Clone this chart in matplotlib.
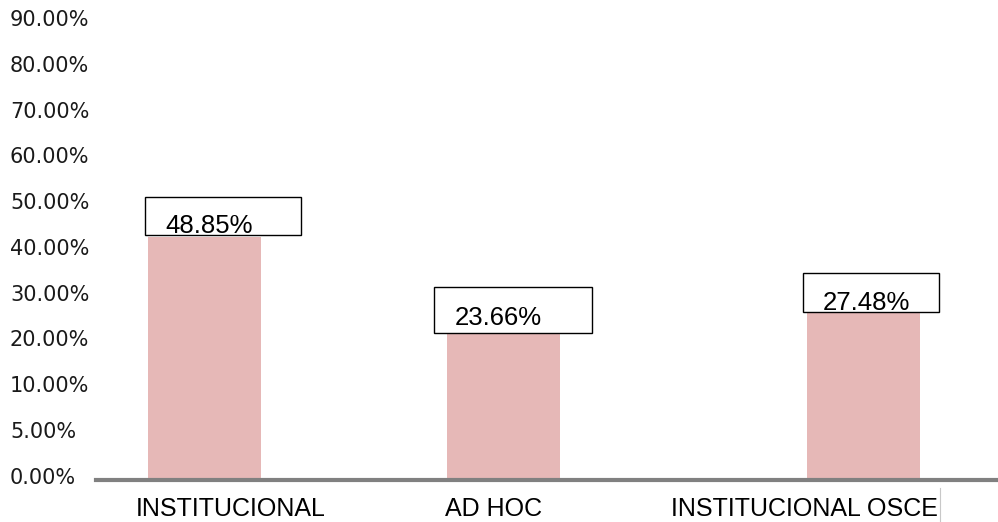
import numpy as np
import matplotlib
matplotlib.use("Agg")
import matplotlib.pyplot as plt
from matplotlib.patches import Rectangle

# data
categorias = ["INSTITUCIONAL", "AD HOC", "INSTITUCIONAL OSCE"]
etiquetas = [48.85, 23.66, 27.48]          # printed percentages
alturas = [42.2, 21.2, 25.8]               # drawn bar heights, read against the axis
ticks_val = [0, 5, 10, 20, 30, 40, 50, 60, 70, 80, 90]
ticks_txt = ["%.2f%%" % v for v in ticks_val]

# layout (one x unit = gap between the first two bars)
x_barras = [0, 1, 2.204]
x_textos = [0.089, 0.967, 2.007]
ancho = 0.378
PX_X = 299.0   # pixels per x unit
PX_Y = 45.7    # pixels per tick step
# label boxes: left/right offsets from bar edges, bottom offset from bar top, height (px)
cajas = [(-3, 40, 2, 38), (-13, 32, 0, 46), (-4, 19, 0, 39)]
texto_off = [(20, 2), (21, 8), (20, 2)]   # text left from box left, baseline above box bottom

color_barra = "#E6B8B7"

# non uniform axis: ticks evenly spaced
pos_ticks = np.arange(len(ticks_val))
h = np.interp(alturas, ticks_val, pos_ticks)

fig = plt.figure(figsize=(9.98, 5.22), dpi=100)
ax = fig.add_axes([96 / 998, 42 / 522, 902 / 998, 480 / 522])

ax.bar(x_barras, h - (-0.098), bottom=-0.098, width=ancho, color=color_barra,
       edgecolor="none", zorder=2)

for i in range(len(categorias)):
    izq = x_barras[i] - ancho / 2
    der = x_barras[i] + ancho / 2
    l, r, b, alto = cajas[i]
    x0 = izq + l / PX_X
    x1 = der + r / PX_X
    y0 = h[i] + b / PX_Y
    ax.add_patch(Rectangle((x0, y0), x1 - x0, alto / PX_Y, facecolor="white",
                           edgecolor="black", linewidth=1.0, zorder=3))
    tx, ty = texto_off[i]
    ax.text(x0 + tx / PX_X, y0 + ty / PX_Y, "%.2f%%" % etiquetas[i],
            fontsize=18.5, family="Liberation Sans", ha="left", va="baseline", zorder=4)

ax.set_xlim(-0.363, 2.654)
ax.set_ylim(-0.098, 10.40)

ax.set_yticks(pos_ticks)
ax.set_yticklabels(ticks_txt, fontsize=15, family="DejaVu Sans", color="#1a1a1a")
for t in ax.get_yticklabels():
    t.set_horizontalalignment("left")
ax.tick_params(axis="y", length=0, pad=62)

ax.set_xticks(x_textos)
ax.set_xticklabels(categorias, fontsize=18, family="Liberation Sans")
ax.tick_params(axis="x", length=0, pad=12)

for s in ["top", "right", "left"]:
    ax.spines[s].set_visible(False)
ax.spines["bottom"].set_color("#808080")
ax.spines["bottom"].set_linewidth(3)
ax.spines["bottom"].set_zorder(5)

# small cursor mark after the last label
fig.add_artist(plt.Line2D([940 / 998, 940 / 998], [0, 34 / 522], color="#c8c8c8", linewidth=0.8))

fig.savefig("out.png", dpi=100)
